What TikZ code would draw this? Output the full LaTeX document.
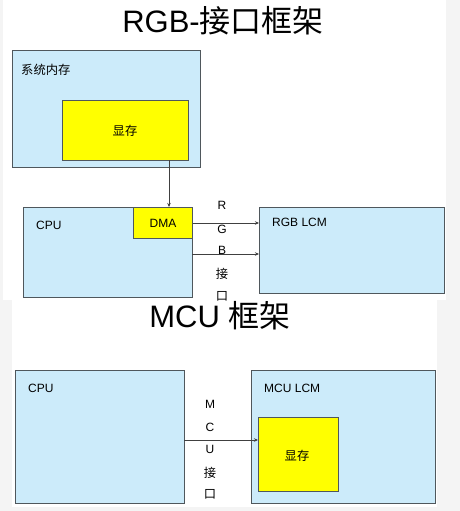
\documentclass[tikz,border=0pt]{standalone}
\usepackage{fontspec}
\setmainfont{Liberation Sans}
\newfontfamily\cjk{Noto Sans CJK SC}
\usetikzlibrary{arrows.meta}
\definecolor{boxblue}{HTML}{CCEBFA}
\definecolor{boxline}{HTML}{4F575C}
\definecolor{vram}{HTML}{FFFF00}
\definecolor{pagegray}{HTML}{F4F4F4}
\tikzset{
  bluebox/.style={draw=boxline, line width=1pt, fill=boxblue, rectangle, inner sep=0pt, anchor=north west},
  yellowbox/.style={draw=boxline, line width=1pt, fill=vram, rectangle, inner sep=0pt, anchor=north west},
  lbl/.style={inner sep=0pt, anchor=west, font=\fontsize{12}{14}\selectfont},
  cjklbl/.style={inner sep=0pt, font=\fontsize{12.3}{14}\selectfont\cjk},
  vlet/.style={inner sep=0pt, font=\fontsize{12}{14}\selectfont},
  title/.style={inner sep=0pt, font=\fontsize{31}{34}\selectfont},
  arr/.style={draw=black!75, line width=0.8pt, -{Stealth[length=4pt,width=3.5pt]}}
}
\begin{document}
\begin{tikzpicture}[x=1pt,y=-1pt]
\useasboundingbox (0,0) rectangle (460,511);
\fill[pagegray] (0,0) rectangle (460,511);
\fill[white] (3,0) rectangle (446,300);
\fill[white] (12,300) rectangle (437,507);

% ---- RGB section
\node[title] (t1) at (223,21) {RGB-{\cjk 接口框架}};

\node[bluebox, minimum width=188pt, minimum height=117pt] (sysmem) at (12,50) {};
\node[cjklbl, anchor=west] (sysmemlbl) at (21,70) {系统内存};
\node[yellowbox, minimum width=126pt, minimum height=60pt] (vram1) at (62,100) {};
\node[cjklbl] (vram1lbl) at (125,131) {显存};

\node[bluebox, minimum width=169pt, minimum height=90pt] (cpu1) at (23,207) {};
\node[lbl] (cpu1lbl) at (36,225) {CPU};
\node[yellowbox, minimum width=59pt, minimum height=31pt] (dma) at (133,207) {};
\node[vlet] (dmalbl) at (dma.center) {DMA};

\node[bluebox, minimum width=185pt, minimum height=86pt] (lcm1) at (259,207) {};
\node[lbl] (lcm1lbl) at (272,222) {RGB LCM};

\coordinate (vdown) at (169,160);
\draw[arr] (vdown) -- (vdown |- dma.north);
\draw[arr] (dma.east) -- (dma.east -| lcm1.west);
\coordinate (b2) at (192,254);
\draw[arr] (b2) -- (b2 -| lcm1.west);

\node[vlet] (r) at (222,205) {R};
\node[vlet] (g) at (222,229) {G};
\node[vlet] (b) at (222,250) {B};
\node[cjklbl] (jie1) at (222,274) {接};
\node[cjklbl] (kou1) at (222,296) {口};

% ---- MCU section
\node[title] (t2) at (220,316) {MCU {\cjk 框架}};

\node[bluebox, minimum width=169pt, minimum height=133pt] (cpu2) at (15,370) {};
\node[lbl] (cpu2lbl) at (28,388) {CPU};

\node[bluebox, minimum width=184pt, minimum height=133pt] (lcm2) at (251,370) {};
\node[lbl] (lcm2lbl) at (264,388) {MCU LCM};
\node[yellowbox, minimum width=80pt, minimum height=74pt] (vram2) at (258,417) {};
\node[cjklbl] (vram2lbl) at (297,456) {显存};

\coordinate (m1) at (184,440);
\draw[arr] (m1) -- (m1 -| vram2.west);

\node[vlet] (m) at (210,404) {M};
\node[vlet] (c) at (210,427) {C};
\node[vlet] (u) at (210,449) {U};
\node[cjklbl] (jie2) at (210,473) {接};
\node[cjklbl] (kou2) at (210,494) {口};
\end{tikzpicture}
\end{document}
